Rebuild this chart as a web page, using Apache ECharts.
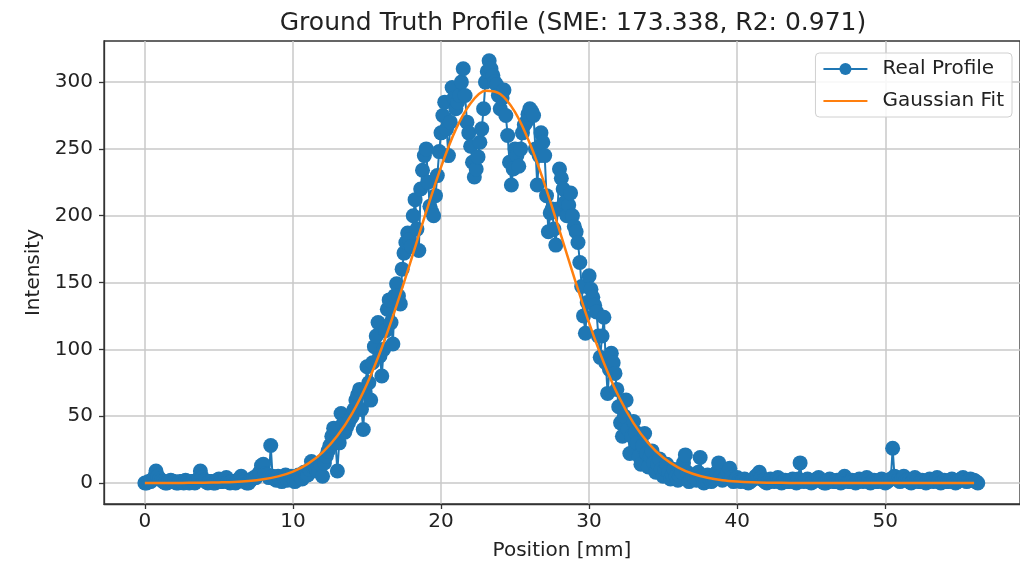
<!DOCTYPE html>
<html>
<head>
<meta charset="utf-8">
<script src="https://cdn.jsdelivr.net/npm/echarts@6/dist/echarts.min.js"></script>
<style>html,body{margin:0;padding:0;background:#fff}#c{width:1020px;height:571px}</style>
</head>
<body>
<div id="c"></div>
<script>
// Sampling grid of the measured profile (mm)
const profileStart = 0;
const profileStep = 0.125;
// Measured intensities, 8 samples per mm (one row per mm), from 0 mm to 56.25 mm
const realProfile = [
  0,0,1,1,2,4,9,5,
  3,2,1,0,0,1,2,1,
  1,0,0,1,1,0,2,1,
  0,1,1,0,2,3,9,4,
  2,1,0,1,1,0,0,2,
  3,1,1,2,4,1,0,1,
  1,0,2,3,5,2,1,0,
  0,2,3,4,4,6,8,13,
  14,7,6,4,28,5,3,2,
  5,3,1,4,6,2,3,5,
  4,1,2,6,5,3,8,6,
  6,10,16,12,12,9,9,14,
  5,15,20,24,28,35,41,30,
  9,30,52,44,38,42,45,48,
  50,55,62,66,70,55,40,68,
  87,75,62,90,102,110,120,95,
  80,100,114,130,137,120,104,140,
  149,140,134,160,172,180,187,182,
  177,200,212,190,174,220,234,245,
  250,225,207,203,200,215,230,248,
  262,275,285,265,245,270,296,288,
  280,285,290,300,310,290,270,262,
  252,240,229,235,244,255,265,280,
  300,308,316,310,305,300,298,290,
  280,288,294,275,260,240,223,235,
  250,245,237,250,262,268,270,276,
  280,278,275,250,223,245,262,255,
  245,215,188,202,205,190,178,205,
  235,228,220,210,200,208,217,200,
  192,188,180,165,147,125,112,135,
  155,145,139,133,128,110,94,110,
  124,90,67,85,97,90,82,70,
  57,45,35,50,62,40,22,35,
  46,38,30,20,14,28,37,22,
  12,20,24,15,8,14,18,10,
  5,10,14,8,3,6,10,5,
  2,5,8,15,21,8,1,3,
  5,3,2,8,19,5,0,2,
  6,3,1,2,3,8,15,5,
  2,3,5,8,11,4,1,2,
  4,2,1,2,3,1,0,1,
  2,3,5,6,8,4,2,1,
  0,1,3,2,1,2,4,2,
  0,1,2,1,1,2,3,1,
  0,3,15,2,1,2,3,1,
  0,1,2,3,4,2,1,0,
  0,2,3,2,1,1,2,1,
  0,3,5,2,1,1,2,1,
  0,2,3,2,1,2,4,2,
  0,1,2,1,1,2,3,1,
  0,1,2,3,26,5,4,2,
  1,3,5,2,2,1,0,1,
  4,2,1,1,2,1,0,2,
  3,2,1,2,4,2,0,1,
  2,1,1,2,3,1,0,1,
  2,3,4,2,1,2,3,2,
  2,1,0
];
// Gaussian fit read at each whole mm, 0..56
const fitPositions = [0,1,2,3,4,5,6,7,8,9,10,11,12,13,14,15,16,17,18,19,20,21,22,23,24,25,26,27,28,29,30,31,32,33,34,35,36,37,38,39,40,41,42,43,44,45,46,47,48,49,50,51,52,53,54,55,56];
const gaussianFit = [0,0,0,0.1,0.2,0.4,0.7,1.4,2.7,4.9,8.5,14.3,22.9,35.3,52.1,74.1,101.2,132.9,167.6,203,236.4,264.6,284.2,293.5,291.1,277.5,254,223.5,189,153.5,119.8,89.8,64.7,44.8,29.8,19,11.7,6.9,3.9,2.1,1.1,0.5,0.2,0.1,0,0,0,0,0,0,0,0,0,0,0,0,0];
const xTicks = [0,10,20,30,40,50];
const yTicks = [0,50,100,150,200,250,300];
const titleText = 'Ground Truth Profile (SME: 173.338, R2: 0.971)';
const xName = 'Position [mm]';
const yName = 'Intensity';

const profileData = realProfile.map((v, i) => [profileStart + i * profileStep, v]);
const fitData = fitPositions.map((x, i) => [x, gaussianFit[i]]);

const font = 'DejaVu Sans';
const chart = echarts.init(document.getElementById('c'), null, {renderer: 'canvas'});
chart.setOption({
  animation: false,
  backgroundColor: '#fff',
  textStyle: {fontFamily: font},
  title: {
    text: titleText, left: 568, top: 6, textAlign: 'center',
    textStyle: {fontFamily: font, fontSize: 25, fontWeight: 'normal', color: '#222'}
  },
  legend: {
    orient: 'vertical', right: 8, top: 53,
    itemWidth: 44, itemHeight: 15, itemGap: 12,
    textStyle: {fontFamily: font, fontSize: 20, color: '#222', padding: [0, 0, 0, 10]},
    borderColor: '#d0d0d0', borderWidth: 1, borderRadius: 4,
    padding: [6, 8, 6, 7], backgroundColor: 'rgba(255,255,255,0.85)',
    data: [
      {name: 'Real Profile'},
      {name: 'Gaussian Fit', itemStyle: {opacity: 0}}
    ]
  },
  grid: {left: 104, right: -3, top: 41, bottom: 67, show: true, borderColor: '#333', borderWidth: 1.3, backgroundColor: 'transparent'},
  xAxis: {
    type: 'value', min: -2.76, max: 59.1,
    name: xName, nameLocation: 'middle', nameGap: 37,
    nameTextStyle: {fontFamily: font, fontSize: 20, color: '#222'},
    axisLine: {show: true, onZero: false, lineStyle: {color: '#333', width: 1.3}},
    axisTick: {show: true, customValues: xTicks, length: 5, lineStyle: {color: '#333', width: 1.3}},
    axisLabel: {customValues: xTicks, margin: 8, fontFamily: font, fontSize: 20, color: '#222'},
    splitLine: {show: true, lineStyle: {color: '#c8c8c8', width: 1.5}}
  },
  yAxis: {
    type: 'value', min: -15.75, max: 330.75,
    name: yName, nameLocation: 'middle', nameGap: 60, nameRotate: 90,
    nameTextStyle: {fontFamily: font, fontSize: 20, color: '#222'},
    axisLine: {show: true, onZero: false, lineStyle: {color: '#333', width: 1.3}},
    axisTick: {show: true, customValues: yTicks, length: 5, lineStyle: {color: '#333', width: 1.3}},
    axisLabel: {customValues: yTicks, margin: 11, fontFamily: font, fontSize: 20, color: '#222'},
    splitLine: {show: true, lineStyle: {color: '#c8c8c8', width: 1.5}}
  },
  series: [
    {
      name: 'Real Profile', type: 'line', data: profileData,
      symbol: 'circle', symbolSize: 15, showSymbol: true, showAllSymbol: true,
      itemStyle: {color: '#1f77b4', borderWidth: 0}, lineStyle: {color: '#1f77b4', width: 2},
      z: 2
    },
    {
      name: 'Gaussian Fit', type: 'line', data: fitData, smooth: 0.3,
      symbol: 'none', showSymbol: false,
      itemStyle: {color: '#ff7f0e'}, lineStyle: {color: '#ff7f0e', width: 2.5},
      z: 3
    }
  ]
});
</script>
</body>
</html>
